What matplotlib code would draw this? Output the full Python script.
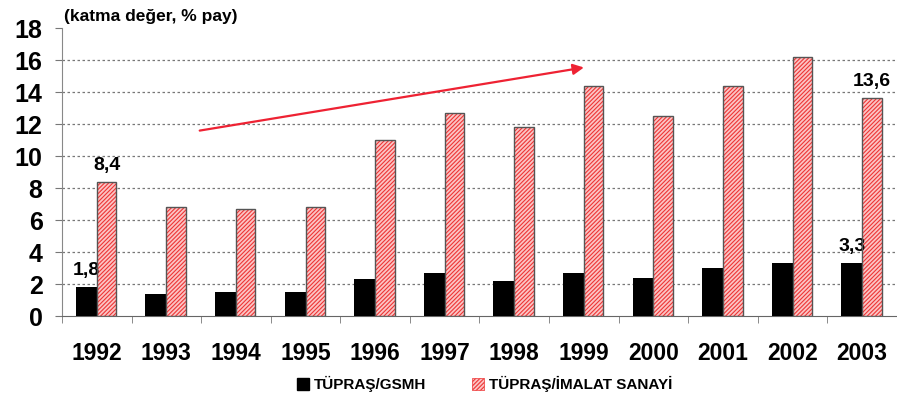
import matplotlib.pyplot as plt
import numpy as np
from matplotlib.patches import Patch

plt.rcParams['font.family'] = ['Liberation Sans', 'DejaVu Sans']
plt.rcParams['font.weight'] = 'bold'
plt.rcParams['hatch.linewidth'] = 0.8

years = ['1992', '1993', '1994', '1995', '1996', '1997', '1998', '1999', '2000', '2001', '2002', '2003']
gsmh = [1.8, 1.4, 1.5, 1.5, 2.3, 2.7, 2.2, 2.7, 2.4, 3.0, 3.3, 3.3]
imalat = [8.4, 6.8, 6.7, 6.8, 11.0, 12.7, 11.8, 14.4, 12.5, 14.4, 16.2, 13.6]

fig = plt.figure(figsize=(8.97, 4), dpi=100)
ax = fig.add_axes([0.0691, 0.21, 0.9309, 0.72])

x = np.arange(len(years))
bw1, bw2 = 0.3, 0.28
ax.bar(x - 0.15, gsmh, bw1, color='black', zorder=3)
# hatched red bars, then a dark outline on top
ax.bar(x + 0.14, imalat, bw2, color='#fbc4c4', edgecolor='#ee3535', hatch='////////', linewidth=0, zorder=3)
ax.bar(x + 0.14, imalat, bw2, fill=False, edgecolor='#555555', linewidth=1, zorder=4)

ax.set_ylim(0, 18)
ax.set_xlim(-0.5, 11.5 - 5 / 70)
ax.set_yticks(range(0, 19, 2))
ax.tick_params(axis='y', labelsize=18, length=5, pad=9, color='#777777', direction='out')
ax.set_xticks(x)
ax.set_xticklabels(years)
ax.set_xticks(np.arange(-0.5, 12, 1), minor=True)
ax.tick_params(axis='x', which='major', length=0, pad=19, labelsize=16.5)
ax.tick_params(axis='x', which='minor', length=5, color='#777777')
for lab in ax.get_xticklabels() + ax.get_yticklabels():
    lab.set_fontweight('bold')

ax.grid(axis='y', linestyle=(0, (2, 2)), color='#777777', linewidth=0.9, zorder=0)
ygl = ax.get_ygridlines()
ygl[0].set_visible(False)
ygl[-1].set_visible(False)
for s in ['top', 'right']:
    ax.spines[s].set_visible(False)
ax.spines['left'].set_color('#888888')
ax.spines['bottom'].set_color('#666666')

# value labels
ax.text(0 - 0.15, gsmh[0] + 0.5, '1,8', ha='center', va='bottom', fontsize=14, fontweight='bold')
ax.text(0 + 0.14, imalat[0] + 0.5, '8,4', ha='center', va='bottom', fontsize=14, fontweight='bold')
ax.text(11 - 0.15, gsmh[11] + 0.5, '3,3', ha='center', va='bottom', fontsize=14, fontweight='bold')
ax.text(11 + 0.14, imalat[11] + 0.5, '13,6', ha='center', va='bottom', fontsize=14, fontweight='bold')

# trend arrow
ax.annotate('', xy=(7.04, 15.56), xytext=(1.44, 11.56),
            arrowprops=dict(arrowstyle='-|>', color='#ee2233', lw=1.6, mutation_scale=16))

fig.text(0.071, 0.96, '(katma değer, % pay)', fontsize=12.5, fontweight='bold', va='center')

handles = [Patch(facecolor='black', edgecolor='black'),
           Patch(facecolor='#fbc4c4', edgecolor='#ee3535', hatch='////////', linewidth=0.5)]
fig.legend(handles, ['TÜPRAŞ/GSMH', 'TÜPRAŞ/İMALAT SANAYİ'], loc='center', bbox_to_anchor=(0.54, 0.04),
           ncol=2, frameon=False, prop={'size': 11, 'weight': 'bold'}, handlelength=0.8, handleheight=0.8,
           handletextpad=0.3, columnspacing=3.0)

fig.savefig('out.png', dpi=100)
